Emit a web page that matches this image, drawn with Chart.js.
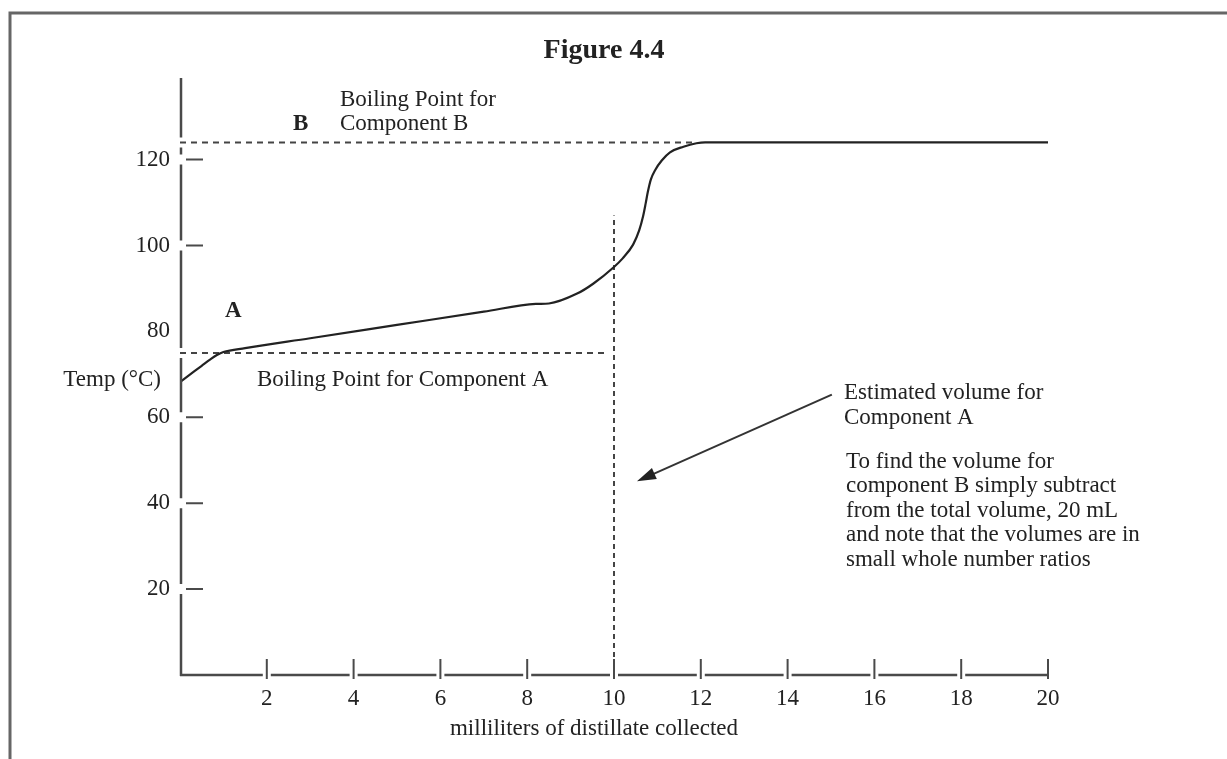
<!DOCTYPE html>
<html>
<head>
<meta charset="utf-8">
<script src="https://cdn.jsdelivr.net/npm/chart.js@4.4.1/dist/chart.umd.min.js"></script>
<style>
  html, body { margin: 0; padding: 0; background: #fff; }
  canvas { display: block; }
</style>
</head>
<body>
<canvas id="fig44" width="1227" height="759"></canvas>
<script>
const fig44 = document.getElementById('fig44');

// distillation curve
const volumeMl = [0, 0.25, 0.5, 0.7, 0.85, 1.0, 1.5, 3, 5, 7, 8.2, 8.5, 9.15, 9.52, 10.0, 10.2, 10.44, 10.58, 10.67, 10.73, 10.78, 10.85, 10.95, 11.1, 11.29, 11.6, 11.9, 12.1, 20];
const tempC    = [68.2, 70.1, 72.0, 73.5, 74.5, 75.2, 76.1, 78.4, 81.5, 84.6, 86.4, 86.5, 88.8, 91.1, 95.0, 97.0, 100.2, 103.5, 106.8, 109.8, 112.5, 115.4, 117.6, 119.8, 121.7, 123.0, 123.8, 124.0, 124.0];

const xTicks = [2, 4, 6, 8, 10, 12, 14, 16, 18, 20];
const yTicks = [20, 40, 60, 80, 100, 120];
const yTickMarks = [20, 40, 60, 100, 120]; // no mark drawn at 80

const bpA = 75, bpAEnd = 9.85;
const bpB = 124, bpBEnd = 11.9;
const estVolume = 10, estTop = 107;

const serif = '"Liberation Serif", "Times New Roman", serif';
const ink = '#222';

const decor = {
  id: 'decor',
  afterDraw(chart) {
    const ctx = chart.ctx;
    const a = chart.chartArea;
    const x = chart.scales.x, y = chart.scales.y;
    ctx.save();

    // page frame (top and left only)
    ctx.strokeStyle = '#666';
    ctx.lineWidth = 3;
    ctx.beginPath();
    ctx.moveTo(10, 759); ctx.lineTo(10, 13); ctx.lineTo(1227, 13);
    ctx.stroke();

    ctx.strokeStyle = '#4a4a4a';
    ctx.lineWidth = 2.5;
    ctx.lineCap = 'butt';

    // y axis, broken where marks and dashed lines meet it
    const ax = a.left + 1;
    const gaps = yTickMarks.concat([bpA, bpB]).map(v => y.getPixelForValue(v)).sort((p, q) => p - q);
    let from = a.top;
    ctx.beginPath();
    gaps.forEach(g => {
      ctx.moveTo(ax, from); ctx.lineTo(ax, g - 5);
      from = g + 5;
    });
    ctx.moveTo(ax, from); ctx.lineTo(ax, a.bottom + 1);
    ctx.stroke();

    ctx.lineWidth = 2;
    ctx.beginPath();
    yTickMarks.forEach(v => {
      const py = y.getPixelForValue(v);
      ctx.moveTo(ax + 5, py); ctx.lineTo(ax + 22, py);
    });
    ctx.stroke();

    // x axis with short upward ticks
    ctx.lineWidth = 2.5;
    const ay = a.bottom;
    let left = a.left;
    ctx.beginPath();
    xTicks.forEach((v, i) => {
      const px = x.getPixelForValue(v);
      if (i === xTicks.length - 1) {
        ctx.moveTo(left, ay); ctx.lineTo(px + 1, ay);
      } else {
        ctx.moveTo(left, ay); ctx.lineTo(px - 4, ay);
        left = px + 4;
      }
    });
    ctx.stroke();
    ctx.lineWidth = 2;
    ctx.beginPath();
    xTicks.forEach(v => {
      const px = x.getPixelForValue(v);
      ctx.moveTo(px, ay - 16); ctx.lineTo(px, ay + 4);
    });
    ctx.stroke();

    // arrow to the estimated volume
    const x0 = x.getPixelForValue(15.02), y0 = y.getPixelForValue(65.3);
    const x1 = x.getPixelForValue(10.53), y1 = y.getPixelForValue(45.1);
    const ang = Math.atan2(y1 - y0, x1 - x0);
    ctx.strokeStyle = '#333';
    ctx.fillStyle = '#222';
    ctx.lineWidth = 2;
    ctx.beginPath();
    ctx.moveTo(x0, y0);
    ctx.lineTo(x1 - 12 * Math.cos(ang), y1 - 12 * Math.sin(ang));
    ctx.stroke();
    ctx.beginPath();
    ctx.moveTo(x1, y1);
    ctx.lineTo(x1 - 19 * Math.cos(ang) + 6 * Math.sin(ang), y1 - 19 * Math.sin(ang) - 6 * Math.cos(ang));
    ctx.lineTo(x1 - 19 * Math.cos(ang) - 6 * Math.sin(ang), y1 - 19 * Math.sin(ang) + 6 * Math.cos(ang));
    ctx.closePath();
    ctx.fill();

    // texts
    ctx.fillStyle = ink;
    ctx.textBaseline = 'middle';
    ctx.textAlign = 'center';
    ctx.font = 'bold 28px ' + serif;
    ctx.fillText('Figure 4.4', 604, 51);

    ctx.font = '23px ' + serif;
    ctx.fillText('milliliters of distillate collected', 594, 729);

    ctx.textAlign = 'right';
    ctx.fillText('Temp (°C)', 161, 380);

    ctx.textAlign = 'left';
    ctx.fillText('Boiling Point for', 340, 100);
    ctx.fillText('Component B', 340, 124);
    ctx.fillText('Boiling Point for Component A', 257, 380);
    ctx.fillText('Estimated volume for', 844, 393);
    ctx.fillText('Component A', 844, 418);
    const note = ['To find the volume for', 'component B simply subtract',
      'from the total volume, 20 mL', 'and note that the volumes are in', 'small whole number ratios'];
    note.forEach((t, i) => ctx.fillText(t, 846, 462 + i * 24.4));

    ctx.font = 'bold 23px ' + serif;
    ctx.fillText('B', 293, 124);
    ctx.fillText('A', 225, 311);

    ctx.restore();
  }
};

const dashed = {
  borderColor: '#444',
  borderWidth: 2,
  borderDash: [6, 5],
  pointRadius: 0,
  tension: 0
};

new Chart(fig44, {
  type: 'line',
  data: {
    datasets: [
      {
        label: 'Distillation curve',
        data: volumeMl.map((v, i) => ({ x: v, y: tempC[i] })),
        borderColor: ink,
        borderWidth: 2.2,
        pointRadius: 0,
        cubicInterpolationMode: 'monotone'
      },
      Object.assign({ label: 'BP B', data: [{ x: 0, y: bpB }, { x: bpBEnd, y: bpB }] }, dashed),
      Object.assign({ label: 'BP A', data: [{ x: 0, y: bpA }, { x: bpAEnd, y: bpA }] }, dashed),
      Object.assign({ label: 'Estimated volume A', data: [{ x: estVolume, y: 0 }, { x: estVolume, y: estTop }] }, dashed, { borderDash: [5, 4] })
    ]
  },
  options: {
    responsive: false,
    animation: false,
    layout: { padding: { left: 0, right: 179, top: 78, bottom: 0 } },
    plugins: {
      legend: { display: false },
      tooltip: { enabled: false },
      title: { display: false }
    },
    scales: {
      x: {
        type: 'linear',
        min: 0,
        max: 20,
        afterBuildTicks: s => { s.ticks = xTicks.map(v => ({ value: v })); },
        afterFit: s => { s.height = 84; },
        grid: { display: false, drawTicks: false },
        border: { display: false },
        ticks: { color: ink, font: { family: serif, size: 23 }, padding: 10, maxRotation: 0, autoSkip: false }
      },
      y: {
        type: 'linear',
        min: 0,
        max: 139,
        afterBuildTicks: s => { s.ticks = yTicks.map(v => ({ value: v })); },
        afterFit: s => { s.width = 180; },
        grid: { display: false, drawTicks: false },
        border: { display: false },
        ticks: { color: ink, font: { family: serif, size: 23 }, padding: 10, autoSkip: false }
      }
    }
  },
  plugins: [decor]
});
</script>
</body>
</html>
